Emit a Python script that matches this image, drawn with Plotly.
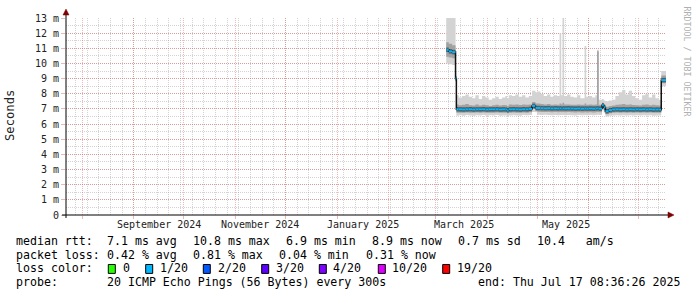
import plotly.graph_objects as go

# ---------------- data ----------------
start_time = "2024-07-22 08:36:26"
end_time = "2025-07-17 08:36:26"

dates = [
    "2025-03-07 12:00", "2025-03-09", "2025-03-11", "2025-03-13 02:00", "2025-03-13 14:00",
    "2025-03-15", "2025-03-17", "2025-03-19", "2025-03-21", "2025-03-23", "2025-03-25",
    "2025-03-27", "2025-03-29", "2025-03-31", "2025-04-02", "2025-04-04", "2025-04-06",
    "2025-04-08", "2025-04-10", "2025-04-12", "2025-04-13", "2025-04-14", "2025-04-16",
    "2025-04-18", "2025-04-20", "2025-04-22", "2025-04-24", "2025-04-26", "2025-04-28",
    "2025-04-30", "2025-05-01", "2025-05-03", "2025-05-05", "2025-05-07", "2025-05-09",
    "2025-05-11", "2025-05-13", "2025-05-14 12:00", "2025-05-15 12:00", "2025-05-16 06:00",
    "2025-05-17 06:00", "2025-05-19", "2025-05-21", "2025-05-23", "2025-05-25", "2025-05-27",
    "2025-05-29 12:00", "2025-05-30 12:00", "2025-06-01", "2025-06-03", "2025-06-05",
    "2025-06-06", "2025-06-07", "2025-06-09", "2025-06-10", "2025-06-11", "2025-06-13",
    "2025-06-15", "2025-06-17", "2025-06-19", "2025-06-21", "2025-06-23", "2025-06-25",
    "2025-06-27", "2025-06-29", "2025-07-01", "2025-07-03", "2025-07-05", "2025-07-07",
    "2025-07-09", "2025-07-11", "2025-07-13", "2025-07-14 12:00",
]
# median rtt (ms)
median = [
    10.90, 10.80, 10.75, 9.00, 6.98,
    6.97, 6.96, 6.97, 6.98, 6.96, 6.97,
    6.97, 6.98, 6.96, 6.97, 6.97, 6.98,
    6.96, 6.97, 6.96, 6.92, 6.97, 6.98,
    6.97, 6.96, 6.98, 6.97, 7.00, 7.20,
    7.06, 7.06, 7.05, 7.04, 7.05, 7.03,
    7.04, 7.03, 7.04, 7.03, 7.04,
    7.03, 7.04, 7.03, 7.02, 7.03, 7.02,
    7.03, 7.02, 7.03, 7.02, 7.03,
    7.05, 7.02, 7.25, 7.10, 6.85, 6.92,
    6.96, 6.97, 6.96, 6.97, 6.96, 6.97,
    6.96, 6.97, 6.96, 6.97, 6.96, 6.97,
    6.95, 6.96, 6.95, 8.90,
]
# outer smoke (min / max ping, ms)
smoke_min = [
    10.00, 9.95, 9.90, 8.80, 6.55,
    6.58, 6.55, 6.60, 6.56, 6.55, 6.58,
    6.57, 6.60, 6.55, 6.58, 6.56, 6.60,
    6.55, 6.57, 6.56, 6.52, 6.57, 6.58,
    6.56, 6.55, 6.60, 6.58, 6.60, 6.80,
    6.78, 6.62, 6.60, 6.62, 6.60, 6.58,
    6.60, 6.58, 6.60, 6.60, 6.60,
    6.58, 6.60, 6.58, 6.57, 6.60, 6.58,
    6.60, 6.58, 6.60, 6.58, 6.60,
    6.62, 6.60, 7.10, 6.75, 6.50, 6.55,
    6.57, 6.58, 6.56, 6.58, 6.57, 6.58,
    6.56, 6.58, 6.57, 6.58, 6.56, 6.58,
    6.55, 6.57, 6.56, 8.50,
]
smoke_max = [
    13.50, 13.50, 13.50, 9.40, 7.90,
    7.75, 7.85, 7.95, 7.80, 7.70, 7.90,
    7.65, 7.85, 7.75, 7.60, 7.70, 7.80,
    7.65, 7.75, 7.85, 7.70, 7.90, 7.85,
    7.95, 7.80, 7.90, 7.75, 7.85, 8.20,
    8.10, 8.15, 8.00, 7.85, 7.95, 7.80,
    7.90, 7.85, 12.00, 7.90, 13.50,
    7.85, 7.95, 7.80, 7.75, 7.90, 7.70,
    11.15, 7.80, 7.85, 7.75, 7.90,
    10.90, 7.60, 7.65, 7.55, 7.50, 7.55,
    7.60, 7.85, 8.10, 8.25, 7.95, 8.20,
    7.85, 7.70, 7.60, 7.90, 8.00, 7.75,
    7.95, 7.70, 7.60, 9.50,
]
# inner (denser) smoke band, ms
core_lo = [
    10.45, 10.40, 10.35, 8.90, 6.75,
    6.75, 6.74, 6.76, 6.75, 6.74, 6.76,
    6.75, 6.76, 6.74, 6.75, 6.75, 6.76,
    6.74, 6.75, 6.75, 6.72, 6.75, 6.76,
    6.75, 6.74, 6.76, 6.75, 6.78, 7.00,
    6.86, 6.82, 6.80, 6.80, 6.80, 6.78,
    6.79, 6.78, 6.80, 6.78, 6.80,
    6.78, 6.80, 6.78, 6.77, 6.78, 6.77,
    6.78, 6.77, 6.78, 6.77, 6.78,
    6.80, 6.78, 7.15, 6.90, 6.65, 6.72,
    6.75, 6.76, 6.75, 6.76, 6.75, 6.76,
    6.75, 6.76, 6.75, 6.76, 6.75, 6.76,
    6.74, 6.75, 6.74, 8.70,
]
core_hi = [
    11.40, 11.30, 11.20, 9.15, 7.30,
    7.25, 7.28, 7.32, 7.25, 7.22, 7.30,
    7.22, 7.28, 7.25, 7.20, 7.24, 7.27,
    7.22, 7.26, 7.25, 7.20, 7.30, 7.28,
    7.30, 7.26, 7.30, 7.27, 7.30, 7.45,
    7.35, 7.35, 7.32, 7.30, 7.32, 7.28,
    7.30, 7.28, 7.35, 7.30, 7.40,
    7.30, 7.30, 7.28, 7.27, 7.30, 7.27,
    7.35, 7.28, 7.30, 7.28, 7.30,
    10.80, 7.28, 7.40, 7.30, 7.15, 7.20,
    7.22, 7.28, 7.30, 7.32, 7.28, 7.30,
    7.26, 7.25, 7.22, 7.28, 7.30, 7.25,
    7.28, 7.24, 7.22, 9.20,
]

y_tick_vals = list(range(0, 14))
y_tick_text = ["0"] + [f"{v} m" for v in range(1, 14)]
month_starts = ["2024-08-01", "2024-09-01", "2024-10-01", "2024-11-01", "2024-12-01",
                "2025-01-01", "2025-02-01", "2025-03-01", "2025-04-01", "2025-05-01",
                "2025-06-01", "2025-07-01"]
x_label_dates = ["2024-09-16", "2024-11-15 12:00", "2025-01-16 12:00", "2025-03-18", "2025-05-18 06:00"]
x_label_text = ["September 2024", "November 2024", "January 2025", "March 2025", "May 2025"]

rtt_items = ["median rtt:", "7.1 ms avg", "10.8 ms max", "6.9 ms min", "8.9 ms now", "0.7 ms sd", "10.4   am/s"]
loss_items = ["packet loss:", "0.42 % avg", "0.81 % max", "0.04 % min", "0.31 % now"]
loss_labels = ["0", "1/20", "2/20", "3/20", "4/20", "10/20", "19/20"]
loss_colors = ["#26ff00", "#00b8ff", "#0059ff", "#5e00ff", "#7e00ff", "#dd00ff", "#ff0000"]
probe_text = "20 ICMP Echo Pings (56 Bytes) every 300s"
end_text = "end: Thu Jul 17 08:36:26 2025"

# ---------------- layout geometry (pixels) ----------------
W, H = 697, 297
PL, PR, PT, PB = 66, 666, 16, 215
MONO = "DejaVu Sans Mono"


def px(x):
    return (x - PL) / (PR - PL)


def py(y):
    return (PB - y) / (PB - PT)


xs = dates + [end_time]


def extend(vals):
    return vals + [vals[-1]]


def segments(vals):
    sx, sy = [], []
    for i, v in enumerate(vals):
        sx += [xs[i], xs[i + 1], None]
        sy += [v, v, None]
    return sx, sy


fig = go.Figure()
common = dict(mode="lines", line_shape="hv", hoverinfo="skip", showlegend=False)
fig.add_trace(go.Scatter(x=xs, y=extend(smoke_min), line=dict(width=0), **common))
fig.add_trace(go.Scatter(x=xs, y=extend(smoke_max), line=dict(width=0), fill="tonexty",
                         fillcolor="#d3d3d3", **common))
fig.add_trace(go.Scatter(x=xs, y=extend(core_lo), line=dict(width=0), **common))
fig.add_trace(go.Scatter(x=xs, y=extend(core_hi), line=dict(width=0), fill="tonexty",
                         fillcolor="#a2a2a2", **common))
sx, sy = segments(median)
fig.add_trace(go.Scatter(x=sx, y=sy, mode="lines", line=dict(width=4.5, color="#5a5a5a"),
                         hoverinfo="skip", showlegend=False, connectgaps=False))
fig.add_trace(go.Scatter(x=xs, y=extend(median), line=dict(width=1.5, color="#111111"), **common))
fig.add_trace(go.Scatter(x=sx, y=sy, mode="lines", line=dict(width=2, color="#00b8ff"),
                         hoverinfo="skip", showlegend=False, connectgaps=False))

major_grid = "rgba(222,80,80,0.42)"
minor_grid = "rgba(140,140,140,0.38)"

fig.update_xaxes(
    type="date", range=[start_time, end_time],
    tickmode="array", tickvals=month_starts, ticktext=[""] * len(month_starts),
    showgrid=True, gridcolor=major_grid, gridwidth=1, griddash="1px,1px",
    ticks="outside", ticklen=3, tickcolor=major_grid,
    minor=dict(tickmode="linear", tick0="2024-07-21", dtick=7 * 86400000,
               showgrid=True, gridcolor=minor_grid, gridwidth=1, griddash="1px,1px", ticks=""),
    showline=False, zeroline=False, fixedrange=True,
)
fig.update_yaxes(
    range=[0, 13], tickmode="array", tickvals=y_tick_vals, ticktext=y_tick_text,
    showgrid=True, gridcolor=major_grid, gridwidth=1, griddash="1px,1px",
    ticks="outside", ticklen=4, tickcolor=major_grid,
    tickfont=dict(family=MONO, size=10, color="#222222"),
    minor=dict(tickmode="linear", tick0=0, dtick=0.5, showgrid=True, gridcolor=minor_grid,
               gridwidth=1, griddash="1px,1px", ticks=""),
    showline=False, zeroline=False, fixedrange=True,
)

annotations = []
for d, t in zip(x_label_dates, x_label_text):
    annotations.append(dict(x=d, xref="x", y=py(225), yref="paper", text=t, showarrow=False,
                            xanchor="center", yanchor="middle",
                            font=dict(family=MONO, size=10, color="#222222")))

annotations.append(dict(x=px(10), y=py(115), xref="paper", yref="paper", text="Seconds",
                        textangle=-90, showarrow=False, xanchor="center", yanchor="middle",
                        font=dict(family=MONO, size=12.2, color="#222222")))
annotations.append(dict(x=px(687), y=py(60), xref="paper", yref="paper",
                        text="RRDTOOL / TOBI OETIKER", textangle=90, showarrow=False,
                        xanchor="center", yanchor="middle",
                        font=dict(family=MONO, size=8.3, color="#b0b0b0")))

LEG = 11.6
nb = lambda s: s.replace(" ", "\u00a0")


def leg(text, x, y, anchor="left"):
    annotations.append(dict(x=px(x), y=py(y), xref="paper", yref="paper", text=nb(text),
                            showarrow=False, xanchor=anchor, yanchor="middle",
                            borderpad=0, font=dict(family=MONO, size=LEG, color="#000000")))


rtt_x = [16, 107, 193.3, 286, 371.7, 458.3, 537.3]
for t, x in zip(rtt_items, rtt_x):
    leg(t, x - 1, 241)
loss_x = [16, 107.3, 193, 279.3, 365.7]
for t, x in zip(loss_items, loss_x):
    leg(t, x - 1, 255)
leg("loss color:", 15, 269)
box_x = [108.3, 145.7, 203.3, 261.7, 319.3, 378.3, 442.7]
lab_x = [123.3, 160, 218.3, 276, 333, 392, 456.7]
shapes = []
for c, t, bx, lx in zip(loss_colors, loss_labels, box_x, lab_x):
    leg(t, lx - 1, 269)
    shapes.append(dict(type="rect", xref="paper", yref="paper", x0=px(bx), x1=px(bx + 7),
                       y0=py(274), y1=py(265), fillcolor=c, line=dict(color="#000000", width=1)))
leg("probe:", 15, 283)
leg(probe_text, 106, 283)
leg(end_text, 681, 283, anchor="right")

# axes with arrows
shapes.append(dict(type="line", xref="paper", yref="paper", x0=px(62), x1=px(669),
                   y0=py(215), y1=py(215), line=dict(color="#000000", width=1)))
shapes.append(dict(type="line", xref="paper", yref="paper", x0=px(66), x1=px(66),
                   y0=py(218), y1=py(11), line=dict(color="#000000", width=1)))
shapes.append(dict(type="path", xref="paper", yref="paper",
                   path=f"M {px(668)} {py(212)} L {px(674)} {py(215)} L {px(668)} {py(218)} Z",
                   fillcolor="#7f0000", line=dict(color="#7f0000", width=0.5)))
shapes.append(dict(type="path", xref="paper", yref="paper",
                   path=f"M {px(63)} {py(13)} L {px(66)} {py(7)} L {px(69)} {py(13)} Z",
                   fillcolor="#7f0000", line=dict(color="#7f0000", width=0.5)))

fig.update_layout(
    width=W, height=H, margin=dict(l=PL, r=W - PR, t=PT, b=H - PB, pad=0),
    paper_bgcolor="#ffffff", plot_bgcolor="#ffffff",
    annotations=annotations, shapes=shapes, showlegend=False,
    font=dict(family=MONO, size=10),
)

fig.write_html("out.html")
